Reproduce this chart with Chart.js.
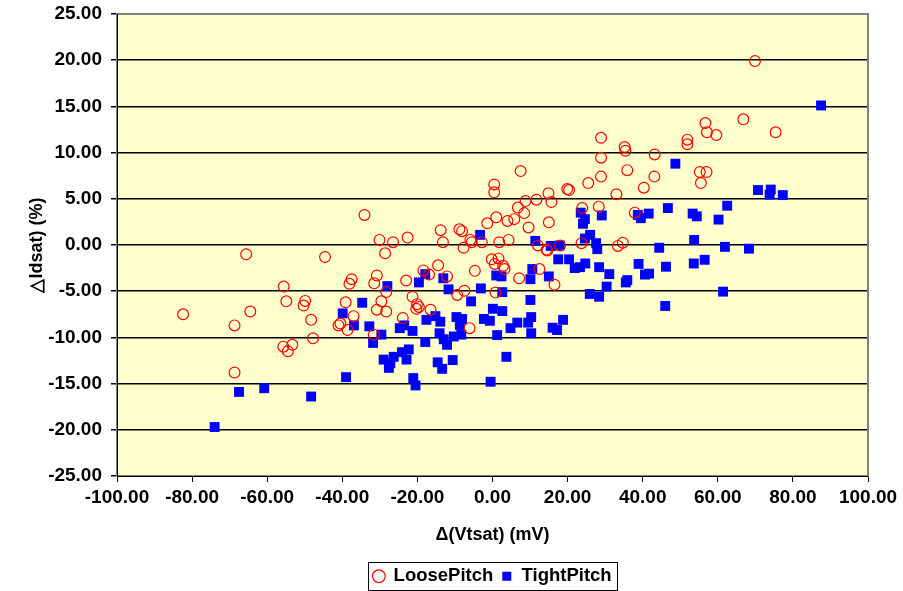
<!DOCTYPE html>
<html>
<head>
<meta charset="utf-8">
<script src="https://cdn.jsdelivr.net/npm/chart.js@4.4.0/dist/chart.umd.min.js"></script>
<style>
  html, body { margin: 0; padding: 0; background: #fff; }
  #wrap { width: 903px; height: 591px; position: relative; }
</style>
</head>
<body>
<div id="wrap"><canvas id="scatter"></canvas></div>
<script>
// LoosePitch (red open circles)
const looseX = [-82.4, -68.7, -68.7, -65.6, -64.5, -55.6, -54.9, -55.7, -53.3, -54.5,
  -50.3, -49.9, -48.3, -47.8, -44.6, -41.0, -40.5, -38.6, -39.1, -37.5,
  -38.1, -37.0, -34.1, -31.6, -30.8, -31.5, -30.1, -28.6, -26.5, -29.6,
  -30.8, -28.3, -28.3, -23.0, -22.6, -23.9, -21.3, -20.1, -19.6, -20.3,
  -18.4, -16.9, -16.5, -14.5, -13.8, -13.2, -12.1, -9.4, -7.5, -8.8,
  -8.1, -7.7, -6.1, -5.9, -5.5, -4.7, -2.85, -1.4, -0.2, 0.45,
  0.45, 0.6, 0.8, 1.0, 1.6, 1.8, 2.85, 3.2, 4.0, 4.3,
  5.8, 6.75, 7.1, 7.5, 8.45, 8.8, 9.6, 11.7, 12.1, 12.5,
  14.4, 14.6, 14.9, 15.0, 15.7, 16.5, 18.0, 19.9, 20.4, 23.7,
  23.9, 25.5, 28.3, 28.9, 28.9, 28.9, 33.0, 33.4, 34.7, 35.2,
  35.4, 35.9, 37.9, 40.3, 43.1, 43.2, 51.9, 51.9, 55.2, 57.0,
  55.5, 56.7, 57.1, 59.6, 66.8, 69.9, 75.4];
const looseY = [-7.5, -8.7, -13.8, -1.0, -7.2, -4.5, -6.1, -11.0, -10.8, -11.5,
  -6.55, -6.05, -8.1, -10.1, -1.3, -8.7, -8.5, -9.2, -6.2, -3.7,
  -4.2, -7.7, 3.25, -9.7, -3.3, -4.15, 0.55, -0.9, 0.3, -6.1,
  -7.0, -7.2, -5.1, -3.85, 0.8, -7.9, -5.6, -6.4, -6.7, -6.9,
  -2.75, -3.2, -7.0, -2.2, 1.6, 0.3, -3.4, -5.4, -4.95, 1.7,
  1.5, -0.3, -9.0, 0.55, 0.3, -2.8, 0.3, 2.35, -1.55, 6.55,
  5.7, -2.05, -5.15, 3.0, -1.45, 0.3, -2.25, -2.6, 2.6, 0.55,
  2.8, 4.05, -3.6, 8.0, 3.45, 4.75, 1.9, 4.9, -0.05, -2.6,
  -0.5, -0.6, 5.6, 2.45, 4.65, -4.3, -0.05, 6.05, 5.95, 0.2,
  4.0, 6.7, 4.15, 7.4, 9.45, 11.6, 5.5, -0.1, 0.25, 10.6,
  10.2, 8.1, 3.5, 6.2, 7.4, 9.8, 11.4, 10.9, 7.9, 7.9,
  6.7, 13.2, 12.2, 11.9, 13.6, 19.9, 12.2];

// TightPitch (blue filled squares)
const tightX = [-74.0, -67.5, -60.8, -48.3, -39.9, -39.0, -36.9, -32.8, -34.7, -29.6,
  -31.8, -28.0, -29.0, -26.3, -27.2, -27.6, -24.1, -22.3, -22.9, -24.7,
  -23.5, -21.3, -21.1, -20.5, -19.6, -17.9, -17.6, -15.2, -13.9, -17.9,
  -14.1, -13.0, -12.1, -14.6, -13.4, -10.6, -13.1, -11.7, -10.3, -8.3,
  -9.6, -8.1, -8.7, -5.7, -3.3, -3.1, -2.3, -0.7, -0.5, 0.1,
  2.6, 1.0, 2.4, 2.6, 1.25, 3.7, 4.8, 6.6, 9.5, 10.3,
  10.3, 10.1, 10.1, 10.6, 11.4, 15.0, 15.5, 17.9, 17.5, 20.4,
  16.0, 17.2, 18.8, 21.9, 23.3, 24.7, 23.5, 24.6, 24.1, 29.1,
  26.0, 24.6, 27.6, 27.9, 28.4, 31.1, 30.4, 25.9, 28.4, 35.5,
  35.9, 38.9, 40.6, 41.7, 38.7, 39.5, 41.6, 44.4, 46.2, 46.0,
  46.7, 48.7, 53.3, 54.4, 53.7, 53.6, 56.5, 60.2, 61.4, 61.9,
  62.5, 68.3, 70.7, 74.1, 73.8, 77.3, 87.5];
const tightY = [-19.7, -15.9, -15.5, -16.4, -7.4, -14.3, -8.7, -8.8, -6.25, -9.7,
  -10.6, -4.45, -12.4, -12.1, -12.8, -13.3, -11.6, -11.3, -12.4, -9.0,
  -8.7, -9.3, -14.4, -15.2, -4.05, -3.15, -8.1, -7.7, -8.3, -10.5,
  -9.55, -10.2, -10.8, -12.7, -13.4, -12.45, -3.6, -4.8, -9.9, -9.7,
  -7.8, -8.0, -8.65, -6.1, 1.1, -4.7, -8.0, -8.2, -14.8, -6.9,
  -7.15, -3.3, -3.4, -5.1, -9.75, -12.1, -9.0, -8.4, -8.4, -7.8,
  -9.55, -5.95, -3.7, -2.6, 0.45, -3.4, -0.1, -0.05, -1.55, -1.55,
  -8.95, -9.2, -8.1, -2.5, -2.4, -2.0, 3.5, 2.8, 2.3, 3.2,
  1.1, 0.7, 0.2, -0.45, -2.4, -3.15, -4.5, -5.3, -5.6, -4.05,
  -3.8, -2.05, -3.2, -3.1, 3.25, 2.9, 3.4, -0.3, -2.35, -6.6,
  4.0, 8.8, 3.4, 3.1, 0.55, -2.0, -1.6, 2.75, -5.05, -0.2,
  4.25, -0.4, 5.95, 6.0, 5.45, 5.4, 15.1];

const seriesNames = ['LoosePitch', 'TightPitch'];
const xRange = [-100, 100];
const yRange = [-25, 25];

const toPoints = (xs, ys) => xs.map((x, i) => ({ x: x, y: ys[i] }));
const FONT = 'Liberation Sans, Arial, sans-serif';

// plot background, plot frame and the framed legend
const decor = {
  id: 'decor',
  afterLayout(chart) {
    // centre the legend under the plot area, not the whole canvas
    const lg = chart.legend, a = chart.chartArea;
    lg.left = a.left;
    lg.right = a.right;
    lg.top += 4.5;
    lg.bottom += 4.5;
  },
  beforeDraw(chart) {
    const { ctx, chartArea: a } = chart;
    ctx.save();
    ctx.fillStyle = '#ffffff';
    ctx.fillRect(0, 0, chart.width, chart.height);
    ctx.fillStyle = '#FFFFCC';
    ctx.fillRect(a.left, a.top, a.right - a.left, a.bottom - a.top);
    ctx.restore();
  },
  afterDraw(chart) {
    const { ctx, chartArea: a } = chart;
    ctx.save();
    ctx.strokeStyle = '#808080';
    ctx.lineWidth = 2;
    ctx.strokeRect(a.left, a.top, a.right - a.left, a.bottom - a.top);
    ctx.strokeStyle = '#000';
    ctx.lineWidth = 1;
    ctx.beginPath();
    ctx.moveTo(a.left + 0.5, a.top);
    ctx.lineTo(a.left + 0.5, a.bottom + 0.5);
    ctx.lineTo(a.right, a.bottom + 0.5);
    ctx.stroke();
    // legend frame
    const boxes = chart.legend.legendHitBoxes;
    if (boxes && boxes.length) {
      const l = Math.min(...boxes.map(b => b.left)) - 5;
      const r = Math.max(...boxes.map(b => b.left + b.width)) + 6;
      const t = Math.min(...boxes.map(b => b.top)) - 5;
      const btm = Math.max(...boxes.map(b => b.top + b.height)) + 4.5;
      ctx.strokeStyle = '#000';
      ctx.strokeRect(Math.round(l) + 0.5, Math.round(t) + 0.5, Math.round(r - l), Math.round(btm - t));
    }
    ctx.restore();
  }
};

new Chart(document.getElementById('scatter'), {
  type: 'scatter',
  data: {
    datasets: [{
      label: seriesNames[0],
      data: toPoints(looseX, looseY),
      pointStyle: 'circle',
      pointRadius: 5.4,
      pointHoverRadius: 5.4,
      borderWidth: 1.2,
      borderColor: '#FF0000',
      backgroundColor: 'rgba(0,0,0,0)'
    }, {
      label: seriesNames[1],
      data: toPoints(tightX, tightY),
      pointStyle: 'rect',
      pointRadius: 7,
      pointHoverRadius: 7,
      borderWidth: 0,
      borderColor: '#0000FF',
      backgroundColor: '#0000FF'
    }]
  },
  options: {
    responsive: true,
    maintainAspectRatio: false,
    animation: false,
    layout: { padding: { left: 0, right: 35, top: 14, bottom: 0 } },
    plugins: {
      legend: {
        position: 'bottom',
        labels: {
          usePointStyle: true,
          boxWidth: 11,
          boxHeight: 9,
          padding: 8,
          color: '#000',
          font: { family: FONT, size: 18.5, weight: 'bold' },
          generateLabels(chart) {
            return chart.data.datasets.map((ds, i) => ({
              text: ds.label,
              datasetIndex: i,
              pointStyle: ds.pointStyle,
              fillStyle: i === 0 ? '#ffffff' : '#0000FF',
              strokeStyle: i === 0 ? '#FF0000' : '#0000FF',
              lineWidth: i === 0 ? 1.2 : 0,
              fontColor: '#000'
            }));
          }
        }
      },
      tooltip: { enabled: false }
    },
    scales: {
      x: {
        type: 'linear',
        min: xRange[0], max: xRange[1],
        afterFit(scale) { scale.height = 78.5; },
        ticks: {
          stepSize: 20,
          color: '#000',
          padding: 4,
          maxRotation: 0,
          font: { family: FONT, size: 19, weight: 'bold' },
          callback: v => v.toFixed(2)
        },
        grid: { drawOnChartArea: false, drawTicks: true, tickLength: 6, color: '#000' },
        border: { display: false },
        title: {
          display: true,
          text: 'Δ(Vtsat) (mV)',
          color: '#000',
          padding: { top: 0, bottom: 9 },
          font: { family: FONT, size: 18, weight: 'bold' }
        }
      },
      y: {
        type: 'linear',
        min: yRange[0], max: yRange[1],
        afterFit(scale) {
          scale.width = 117;
          scale.paddingTop = 0;
          scale.paddingBottom = 0;
        },
        ticks: {
          stepSize: 5,
          color: '#000',
          padding: 9,
          font: { family: FONT, size: 19, weight: 'bold' },
          callback: v => v.toFixed(2)
        },
        grid: { color: '#000', lineWidth: 1.5, tickLength: 6 },
        border: { display: false },
        title: {
          display: true,
          text: '△Idsat) (%)',
          color: '#000',
          padding: { top: 26, bottom: 0 },
          font: { family: FONT, size: 18, weight: 'bold' }
        }
      }
    }
  },
  plugins: [decor]
});
</script>
</body>
</html>
